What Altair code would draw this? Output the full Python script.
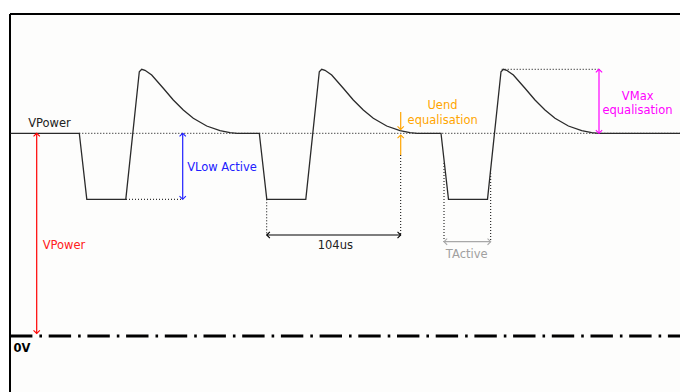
import altair as alt
import pandas as pd

# ---- levels (diagram units: t = horizontal position, v = voltage-like height) ----
V_POWER = 202.7
V_LOW = 136.7
V_ZERO = 0.0

# pulse template: offsets from each falling edge
pulse_starts = [69.3, 249.3, 431.0]
shape_dt = [0, 7.5, 46.5, 60.0, 62.4, 65.7, 72.4, 84.0, 94.0, 104.0, 114.0, 127.4, 140.7, 150.7, 158.0]
shape_v = [202.7, 136.7, 136.7, 264.3, 266.7, 265.7, 261.0, 247.7, 236.0, 226.0, 217.7, 210.0, 205.3, 203.3, 202.7]
wave_start_t = 0.5
wave_end_t = 670.0

# frame (top and left edges)
frame_t1 = [0.0, 0.0]
frame_t2 = [670.0, 0.0]
frame_v1 = [322.0, 322.0]
frame_v2 = [322.0, -60.0]

# dotted guide lines
dot_t1 = [69.3, 116.0, 491.7, 256.7, 390.7, 434.0, 480.7]
dot_t2 = [670.0, 172.7, 589.0, 256.7, 390.7, 434.0, 480.7]
dot_v1 = [202.7, 136.7, 266.7, 136.7, 181.0, 173.0, 163.0]
dot_v2 = [202.7, 136.7, 266.7, 101.0, 101.0, 94.3, 94.3]

# arrow shafts
arr_t1 = [26.7, 172.7, 390.7, 390.7, 589.0, 256.7, 434.0]
arr_t2 = [26.7, 172.7, 390.7, 390.7, 589.0, 390.7, 480.7]
arr_v1 = [202.7, 202.7, 224.0, 181.0, 266.7, 101.0, 94.3]
arr_v2 = [2.5, 136.7, 206.5, 201.0, 202.7, 101.0, 94.3]
arr_col = ["#ff0000", "#2020ff", "#ffa500", "#ffa500", "#ff00ff", "#000000", "#a8a8a8"]

# arrow heads (tip position, direction angle)
head_t = [26.7, 26.7, 172.7, 172.7, 390.7, 390.7, 589.0, 589.0, 256.7, 390.7, 434.0, 480.7]
head_v = [202.7, 2.5, 202.7, 136.7, 206.5, 201.0, 266.7, 202.7, 101.0, 101.0, 94.3, 94.3]
head_ang = [0, 180, 0, 180, 180, 0, 0, 180, 270, 90, 270, 90]
head_col = ["#ff0000", "#ff0000", "#2020ff", "#2020ff", "#ffa500", "#ffa500",
            "#ff00ff", "#ff00ff", "#000000", "#000000", "#a8a8a8", "#a8a8a8"]

# labels
lab_text = ["VPower", "VPower", "VLow Active", "104us", "Uend", "equalisation",
            "TActive", "VMax", "equalisation"]
lab_t = [39.5, 54.0, 212.0, 325.3, 432.5, 432.7, 456.7, 627.7, 627.5]
lab_v = [212.0, 90.3, 167.7, 90.0, 230.0, 215.3, 81.0, 239.3, 225.3]
lab_col = ["#222222", "#ff2020", "#2020ff", "#222222", "#ffa500", "#ffa500",
           "#a0a0a0", "#ff00ff", "#ff00ff"]

zero_label = "0V"
zero_label_t = 12.0
zero_label_v = -13.0

# ---- build tables ----
wt, wv = [wave_start_t], [V_POWER]
for s in pulse_starts:
    for dt, v in zip(shape_dt, shape_v):
        wt.append(s + dt)
        wv.append(v)
wt.append(wave_end_t)
wv.append(V_POWER)
wave = pd.DataFrame({"t": wt, "v": wv, "i": range(len(wt))})

frame = pd.DataFrame({"t": frame_t1, "t2": frame_t2, "v": frame_v1, "v2": frame_v2})
dots = pd.DataFrame({"t": dot_t1, "t2": dot_t2, "v": dot_v1, "v2": dot_v2})
arrows = pd.DataFrame({"t": arr_t1, "t2": arr_t2, "v": arr_v1, "v2": arr_v2, "c": arr_col})
heads = pd.DataFrame({"t": head_t, "v": head_v, "ang": head_ang, "c": head_col})
labels = pd.DataFrame({"t": lab_t, "v": lab_v, "text": lab_text, "c": lab_col})
zero = pd.DataFrame({"t": [0.0], "t2": [670.0], "v": [V_ZERO], "v2": [V_ZERO]})
zlab = pd.DataFrame({"t": [zero_label_t], "v": [zero_label_v], "text": [zero_label]})

xs = alt.Scale(domain=[0, 670], nice=False, zero=False)
ys = alt.Scale(domain=[-60, 322], nice=False, zero=False)
X = alt.X("t:Q", scale=xs, axis=None)
Y = alt.Y("v:Q", scale=ys, axis=None)

frame_lines = alt.Chart(frame).mark_rule(color="black", strokeWidth=2).encode(
    x=X, x2="t2:Q", y=Y, y2="v2:Q"
)

zero_line = alt.Chart(zero).mark_rule(
    color="black", strokeWidth=3, strokeDash=[22.4, 7, 2.6, 6.7]
).encode(x=X, x2="t2:Q", y=Y, y2="v2:Q")

dotted = alt.Chart(dots).mark_rule(
    color="#000000", strokeWidth=1, strokeDash=[1, 2]
).encode(x=X, x2="t2:Q", y=Y, y2="v2:Q")

wave_line = alt.Chart(wave).mark_line(
    color="#2a2a2a", strokeWidth=1.3
).encode(x=X, y=Y, order="i:Q")

shafts = alt.Chart(arrows).mark_rule(strokeWidth=1.2).encode(
    x=X, x2="t2:Q", y=Y, y2="v2:Q", color=alt.Color("c:N", scale=None)
)

ARROW = "M-1,1L0,0L1,1"
tips = alt.Chart(heads).mark_point(
    shape=ARROW, filled=False, size=40, strokeWidth=1.1, opacity=1
).encode(x=X, y=Y, angle=alt.Angle("ang:Q", scale=None), color=alt.Color("c:N", scale=None))

texts = alt.Chart(labels).mark_text(
    font="DejaVu Sans", fontSize=11.5, align="center", baseline="middle"
).encode(x=X, y=Y, text="text:N", color=alt.Color("c:N", scale=None))

ztext = alt.Chart(zlab).mark_text(
    font="DejaVu Sans", fontSize=11.5, fontWeight="bold", align="center",
    baseline="middle", color="black"
).encode(x=X, y=Y, text="text:N")

chart = alt.layer(frame_lines, zero_line, dotted, wave_line, shafts, tips, texts, ztext).properties(
    width=670, height=382,
    autosize=alt.AutoSizeParams(type="none"),
    padding={"left": 2, "top": 6, "right": 0, "bottom": 0},
    background="white",
).configure_view(stroke=None, fill="#fdfdfc")

chart.save("out.html", embed_options={"renderer": "svg", "actions": False})
